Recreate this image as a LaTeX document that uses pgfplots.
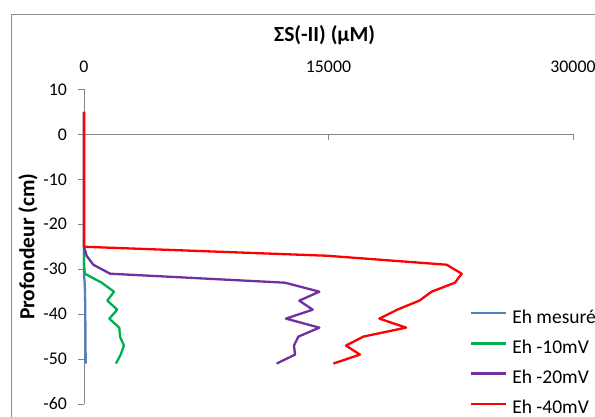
\documentclass[border=0pt]{standalone}
\usepackage{fontspec}
\setmainfont{Carlito}
\usepackage{pgfplots}
\pgfplotsset{compat=1.18}
\definecolor{axgray}{RGB}{134,134,134}
\definecolor{frgray}{RGB}{140,140,140}
\definecolor{ehblue}{RGB}{79,129,189}
\definecolor{ehgreen}{RGB}{0,176,80}
\definecolor{ehpurple}{RGB}{112,48,160}
\definecolor{ehred}{RGB}{255,0,0}

\begin{document}
\begin{tikzpicture}
\useasboundingbox (-84pt,-13pt) rectangle (511pt,404pt);
\begin{scope}
\clip (-84pt,-13pt) rectangle (511pt,404pt);
\draw[frgray, line width=0.8pt] (-73pt,390pt) rectangle (620pt,-40pt);
\begin{axis}[
    at={(0pt,0pt)}, anchor=south west,
    scale only axis,
    width=489pt, height=314.5pt,
    xmin=0, xmax=30000,
    ymin=-60, ymax=10,
    axis x line*=top,
    axis y line*=left,
    x axis line style={draw=none},
    y axis line style={axgray, line width=0.8pt},
    xtick={0,15000,30000},
    ytick={-60,-50,...,10},
    xtick style={draw=none},
    ytick style={axgray, line width=0.8pt},
    tick align=outside,
    major tick length=5.5pt,
    scaled x ticks=false,
    /pgf/number format/assume math mode=true,
    /pgf/number format/1000 sep={},
    tick label style={font=\fontsize{17.8}{20}\selectfont},
    xticklabel style={anchor=base, yshift=11pt},
    yticklabel style={anchor=east, xshift=-8pt},
    title={\textbf{ΣS(-II) (µM)}},
    title style={font=\fontsize{21.5}{25}\selectfont, anchor=base,
        at={(axis description cs:0.492,1.132)}},
    ylabel={\textbf{Profondeur (cm)}},
    ylabel style={font=\fontsize{21.5}{25}\selectfont, rotate=0, anchor=center,
        at={(axis description cs:-0.1145,0.5)}},
    legend style={draw=none, fill=none, inner sep=0pt, outer sep=0pt,
        at={(axis description cs:0.789,0.302)}, anchor=north west,
        font=\fontsize{19.5}{22}\selectfont,
        row sep=12.3pt, column sep=5pt,
        nodes={inner sep=0pt, text height=14pt, text depth=4pt}},
    legend cell align=left,
    legend image code/.code={\draw[#1, line width=2.5pt] (0pt,5pt) -- (35pt,5pt);},
    every axis plot/.append style={line width=2.3pt, line join=round, mark=none},
    clip=false,
]
\draw[axgray, line width=0.8pt] (axis cs:0,0) -- (axis cs:30000,0);
\draw[axgray, line width=0.8pt] (axis cs:15000,0) -- ++(0pt,-6pt);
\draw[axgray, line width=0.8pt] (axis cs:30000,0) -- ++(0pt,-6pt);

\addplot[ehblue, line width=2.3pt] coordinates {
(0,5) (0,3) (0,1) (0,-1) (0,-3) (0,-5) (0,-7) (0,-9) (0,-11) (0,-13)
(0,-15) (0,-17) (0,-19) (0,-21) (0,-23) (0,-25) (0,-27) (0,-29) (0,-31)
(40,-33) (60,-35) (70,-37) (80,-39) (80,-41) (90,-43) (90,-45) (90,-47)
(100,-49) (100,-51)
};
\addplot[ehgreen, line width=2.3pt] coordinates {
(0,5) (0,3) (0,1) (0,-1) (0,-3) (0,-5) (0,-7) (0,-9) (0,-11) (0,-13)
(0,-15) (0,-17) (0,-19) (0,-21) (0,-23) (0,-25) (0,-27) (0,-29) (50,-31)
(1085,-33) (1840,-35) (1430,-37) (2045,-39) (1550,-41) (2165,-43)
(2210,-45) (2450,-47) (2250,-49) (1960,-51)
};
\addplot[ehpurple, line width=2.3pt] coordinates {
(0,5) (0,3) (0,1) (0,-1) (0,-3) (0,-5) (0,-7) (0,-9) (0,-11) (0,-13)
(0,-15) (0,-17) (0,-19) (0,-21) (0,-23) (0,-25) (160,-27) (570,-29)
(1600,-31) (12330,-33) (14440,-35) (13210,-37) (14030,-39) (12390,-41)
(14440,-43) (13150,-45) (12880,-47) (12950,-49) (11820,-51)
};
\addplot[ehred, line width=2.3pt] coordinates {
(0,5) (0,3) (0,1) (0,-1) (0,-3) (0,-5) (0,-7) (0,-9) (0,-11) (0,-13)
(0,-15) (0,-17) (0,-19) (0,-21) (0,-23) (0,-25) (14900,-27) (22250,-29)
(23170,-31) (22760,-33) (21330,-35) (20570,-37) (19220,-39) (18120,-41)
(19760,-43) (17140,-45) (16070,-47) (16930,-49) (15300,-51)
};
\legend{Eh mesuré, Eh -10mV, Eh -20mV, Eh -40mV}
\end{axis}
\end{scope}
\end{tikzpicture}
\end{document}
